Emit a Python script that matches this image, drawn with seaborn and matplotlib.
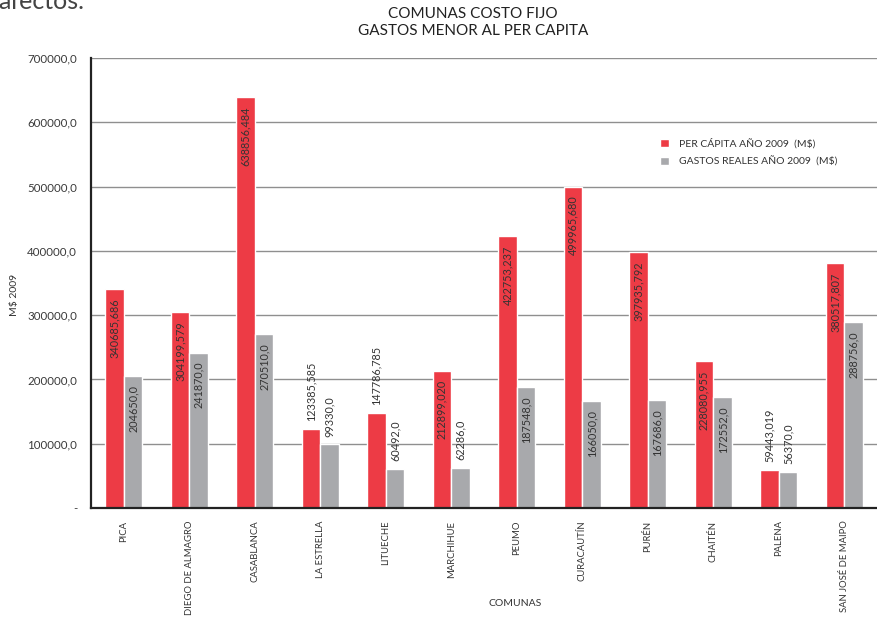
import matplotlib
matplotlib.use("Agg")
import matplotlib.pyplot as plt
import seaborn as sns
import pandas as pd

comunas = ["PICA", "DIEGO DE ALMAGRO", "CASABLANCA", "LA ESTRELLA", "LITUECHE",
           "MARCHIHUE", "PEUMO", "CURACAUTÍN", "PURÉN", "CHAITÉN", "PALENA",
           "SAN JOSÉ DE MAIPO"]
per_capita = [340685.686, 304199.579, 638856.484, 123385.585, 147786.785,
              212899.020, 422753.237, 499965.680, 397935.792, 228080.955,
              59443.019, 380517.807]
gastos_reales = [204650.0, 241870.0, 270510.0, 99330.0, 60492.0,
                 62286.0, 187548.0, 166050.0, 167686.0, 172552.0,
                 56370.0, 288756.0]
series_names = ["PER CÁPITA AÑO 2009  (M$)", "GASTOS REALES AÑO 2009  (M$)"]
y_ticks = [0, 100000, 200000, 300000, 400000, 500000, 600000, 700000]

df = pd.DataFrame({
    "comuna": comunas * 2,
    "valor": per_capita + gastos_reales,
    "serie": [series_names[0]] * len(comunas) + [series_names[1]] * len(comunas),
})

sns.set_theme(style="white")
plt.rcParams["font.family"] = ["Lato", "DejaVu Sans"]

fig = plt.figure(figsize=(8.78, 6.17), dpi=100)
ax = fig.add_axes([91 / 878, 1 - 508 / 617, (877 - 91) / 878, (508 - 58) / 617])

red = "#ED3B45"
gray = "#A8A9AC"
sns.barplot(data=df, x="comuna", y="valor", hue="serie", order=comunas,
            hue_order=series_names, palette=[red, gray], width=0.57, gap=0,
            saturation=1, ax=ax, legend=True)

ax.set_ylim(0, 700000)
ax.set_xlim(-0.5, len(comunas) - 0.5)
ax.set_yticks(y_ticks)
ax.set_yticklabels(["-" if v == 0 else f"{v:.1f}".replace(".", ",") for v in y_ticks],
                   fontsize=8.3, color="#3a3a3a")
ax.yaxis.grid(True, color="#8f8f8f", linewidth=1.0)
ax.set_axisbelow(True)
ax.set_xticks(range(len(comunas)))
ax.set_xticks([i - 0.5 for i in range(len(comunas) + 1)], minor=True)
ax.set_xticklabels(comunas, rotation=90, fontsize=6.8, color="#333333", va="top")
ax.tick_params(axis="x", which="major", length=0, pad=9)
ax.tick_params(axis="x", which="minor", length=4, width=1.2, color="#222222", direction="out")
ax.tick_params(axis="y", length=4, width=1.0, color="#222222", direction="out", pad=6)
for s in ["top", "right"]:
    ax.spines[s].set_visible(False)
for s in ["left", "bottom"]:
    ax.spines[s].set_color("#222222")
    ax.spines[s].set_linewidth(1.6)
ax.set_xlabel("")
ax.set_ylabel("")

# data labels
threshold = 160000
for container, fmt in zip(ax.containers, ["{:.3f}", "{:.1f}"]):
    for bar in container:
        h = bar.get_height()
        x = bar.get_x() + bar.get_width() / 2
        txt = fmt.format(h).replace(".", ",")
        if h >= threshold:
            ax.annotate(txt, (x, h), xytext=(0, -6.5), textcoords="offset points",
                        rotation=90, ha="center", va="top", fontsize=7.8, color="#333333")
        else:
            ax.annotate(txt, (x, h), xytext=(0, 5.5), textcoords="offset points",
                        rotation=90, ha="center", va="bottom", fontsize=7.8, color="#333333")

leg = ax.legend(loc="upper left", bbox_to_anchor=(651 / 878, 1 - 129 / 617),
                bbox_transform=fig.transFigure, frameon=False, fontsize=7.5,
                handlelength=0.8, handleheight=0.8, handletextpad=1.0,
                labelspacing=0.7)
for t in leg.get_texts():
    t.set_color("#333333")

fig.text(473 / 878, 1 - 14 / 617, "COMUNAS COSTO FIJO", ha="center", va="center",
         fontsize=11, color="#222222")
fig.text(473 / 878, 1 - 31 / 617, "GASTOS MENOR AL PER CAPITA", ha="center", va="center",
         fontsize=11, color="#222222")
fig.text(515 / 878, 1 - 603 / 617, "COMUNAS", ha="center", va="center",
         fontsize=7.5, color="#333333")
fig.text(14 / 878, 1 - 295 / 617, "M$ 2009", ha="center", va="center",
         rotation=90, fontsize=7.5, color="#333333")
fig.text(-2 / 878, 1 - 9 / 617, "afectos.", ha="left", va="baseline",
         fontsize=18, color="#444444")

fig.savefig("out.png", dpi=100)
